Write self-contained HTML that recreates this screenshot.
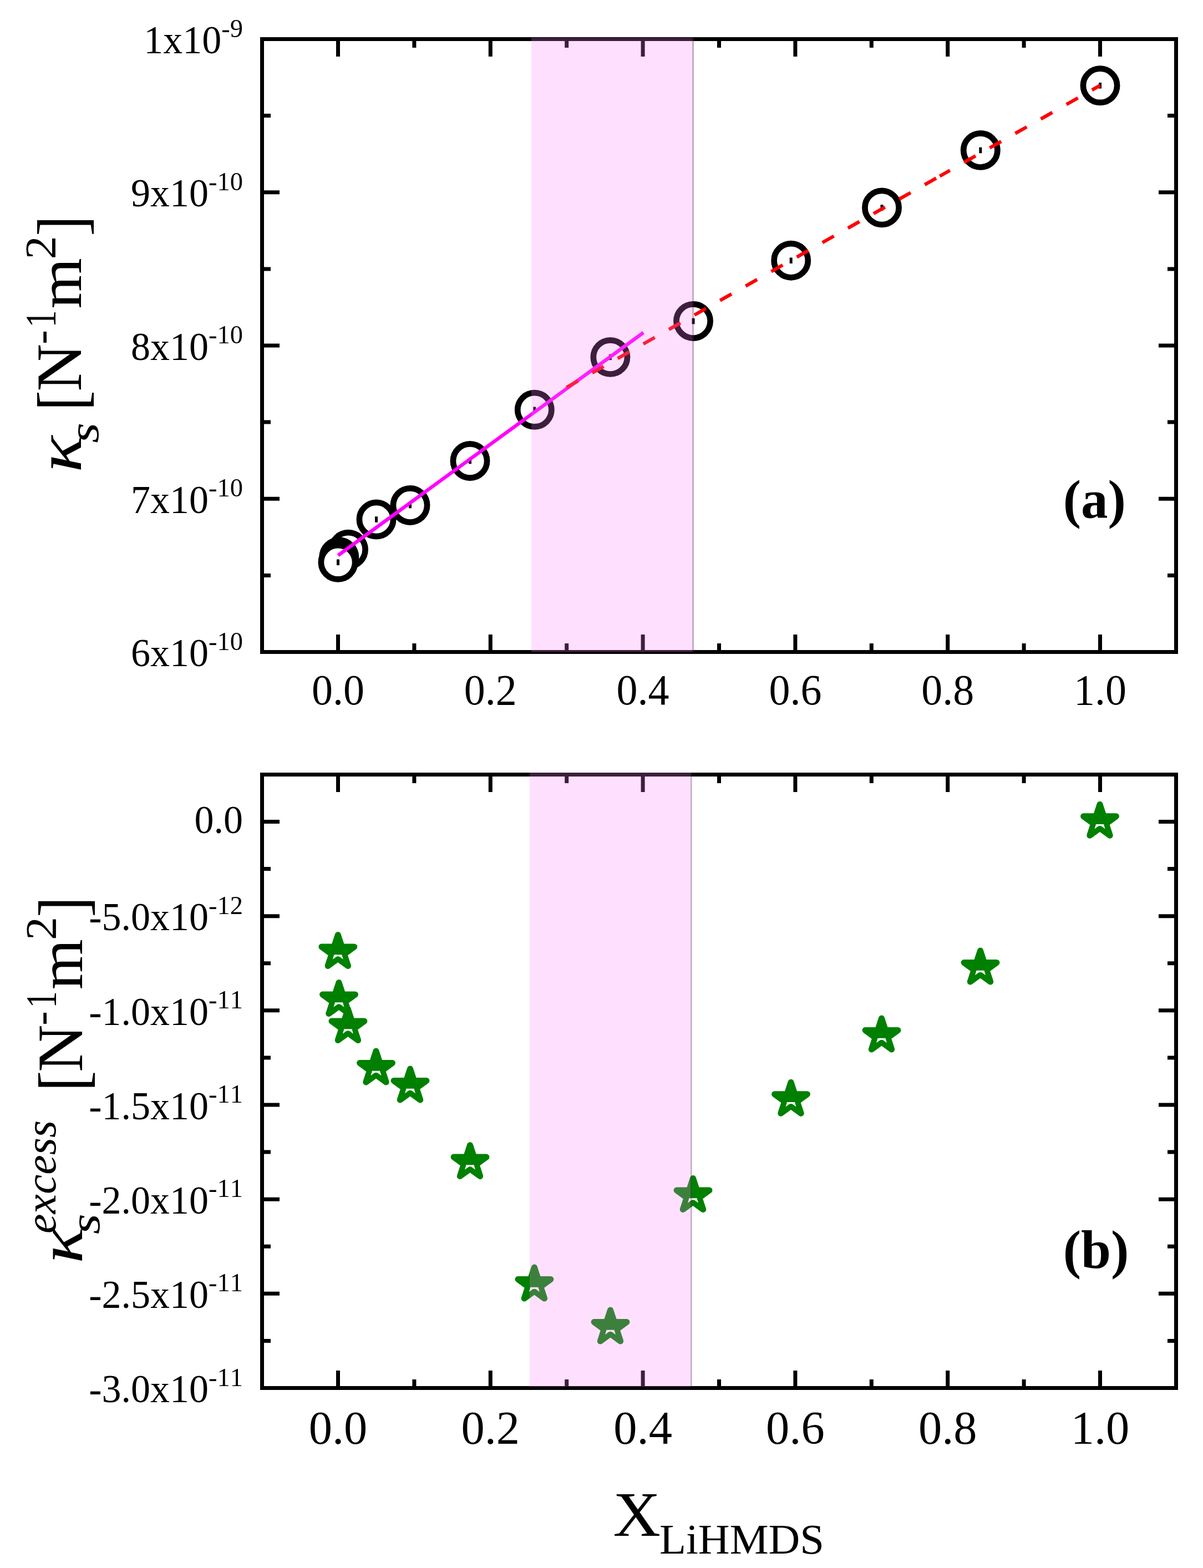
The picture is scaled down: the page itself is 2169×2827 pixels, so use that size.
<!DOCTYPE html>
<html><head><meta charset="utf-8"><title>Figure</title>
<style>html,body{margin:0;padding:0;background:#fff;overflow:hidden;}svg{display:block;}text{font-family:'Liberation Serif','Times New Roman',serif;font-kerning:none;}</style>
</head><body>
<svg width="2169" height="2827" viewBox="0 0 2169 2827">
<rect width="2169" height="2827" fill="#fff"/>
<rect x="472.5" y="70.5" width="1648" height="1105" fill="none" stroke="#000" stroke-width="7"/>
<path d="M609.5 1175.5V1144M609.5 70.5V102M884.3 1175.5V1144M884.3 70.5V102M1159.1 1175.5V1144M1159.1 70.5V102M1433.9 1175.5V1144M1433.9 70.5V102M1708.7 1175.5V1144M1708.7 70.5V102M1983.5 1175.5V1144M1983.5 70.5V102M746.9 1175.5V1160M746.9 70.5V86M1021.7 1175.5V1160M1021.7 70.5V86M1296.5 1175.5V1160M1296.5 70.5V86M1571.3 1175.5V1160M1571.3 70.5V86M1846.1 1175.5V1160M1846.1 70.5V86M472.5 1175.5H504M2120.5 1175.5H2089M472.5 899.25H504M2120.5 899.25H2089M472.5 623H504M2120.5 623H2089M472.5 346.75H504M2120.5 346.75H2089M472.5 70.5H504M2120.5 70.5H2089M472.5 1037.38H488M2120.5 1037.38H2105M472.5 761.12H488M2120.5 761.12H2105M472.5 484.88H488M2120.5 484.88H2105M472.5 208.62H488M2120.5 208.62H2105" stroke="#000" stroke-width="7" fill="none"/>
<circle cx="628" cy="990.8" r="30.6" fill="#fff" stroke="#000" stroke-width="10.7"/>
<rect x="625.5" y="985.5" width="5" height="10.6" fill="#000"/>
<circle cx="611.3" cy="1004.2" r="30.6" fill="#fff" stroke="#000" stroke-width="10.7"/>
<rect x="608.8" y="998.9" width="5" height="10.6" fill="#000"/>
<circle cx="609.5" cy="1013.8" r="30.6" fill="#fff" stroke="#000" stroke-width="10.7"/>
<rect x="607" y="1008.5" width="5" height="10.6" fill="#000"/>
<circle cx="678.5" cy="936.5" r="30.6" fill="#fff" stroke="#000" stroke-width="10.7"/>
<rect x="676" y="931.2" width="5" height="10.6" fill="#000"/>
<circle cx="739.5" cy="911" r="30.6" fill="#fff" stroke="#000" stroke-width="10.7"/>
<rect x="737" y="905.7" width="5" height="10.6" fill="#000"/>
<circle cx="847.5" cy="831" r="30.6" fill="#fff" stroke="#000" stroke-width="10.7"/>
<rect x="845" y="825.7" width="5" height="10.6" fill="#000"/>
<circle cx="963.8" cy="738.8" r="30.6" fill="#fff" stroke="#000" stroke-width="10.7"/>
<rect x="961.3" y="733.5" width="5" height="10.6" fill="#000"/>
<circle cx="1100.4" cy="643.9" r="30.6" fill="#fff" stroke="#000" stroke-width="10.7"/>
<rect x="1097.9" y="638.6" width="5" height="10.6" fill="#000"/>
<circle cx="1250" cy="579" r="30.6" fill="#fff" stroke="#000" stroke-width="10.7"/>
<rect x="1247.5" y="573.7" width="5" height="10.6" fill="#000"/>
<circle cx="1426.2" cy="469.7" r="30.6" fill="#fff" stroke="#000" stroke-width="10.7"/>
<rect x="1423.7" y="464.4" width="5" height="10.6" fill="#000"/>
<circle cx="1590" cy="374.4" r="30.6" fill="#fff" stroke="#000" stroke-width="10.7"/>
<rect x="1587.5" y="369.1" width="5" height="10.6" fill="#000"/>
<circle cx="1767.8" cy="270.9" r="30.6" fill="#fff" stroke="#000" stroke-width="10.7"/>
<rect x="1765.3" y="265.6" width="5" height="10.6" fill="#000"/>
<circle cx="1983.5" cy="154.3" r="30.6" fill="#fff" stroke="#000" stroke-width="10.7"/>
<rect x="1981" y="149" width="5" height="10.6" fill="#000"/>
<line x1="609.5" y1="1001.4" x2="1160.1" y2="599.7" stroke="#f0f" stroke-width="6.4"/>
<path d="M1021.5 698.4L1694.4 317.6" stroke="#f00" stroke-width="6.2" fill="none" stroke-dasharray="23.8 29.2"/>
<path d="M1694.4 317.6L1983.5 154" stroke="#f00" stroke-width="6.2" fill="none" stroke-dasharray="23.8 29.2" stroke-dashoffset="2.6"/>
<rect x="958" y="68" width="290" height="1107.5" fill="rgb(251,127,251)" fill-opacity="0.243"/>
<rect x="1248" y="68" width="3" height="1107.5" fill="rgb(100,40,100)" fill-opacity="0.38"/>
<rect x="472.5" y="1396.5" width="1648" height="1106" fill="none" stroke="#000" stroke-width="7"/>
<path d="M609.5 2502.5V2471M609.5 1396.5V1428M884.3 2502.5V2471M884.3 1396.5V1428M1159.1 2502.5V2471M1159.1 1396.5V1428M1433.9 2502.5V2471M1433.9 1396.5V1428M1708.7 2502.5V2471M1708.7 1396.5V1428M1983.5 2502.5V2471M1983.5 1396.5V1428M746.9 2502.5V2487M746.9 1396.5V1412M1021.7 2502.5V2487M1021.7 1396.5V1412M1296.5 2502.5V2487M1296.5 1396.5V1412M1571.3 2502.5V2487M1571.3 1396.5V1412M1846.1 2502.5V2487M1846.1 1396.5V1412M472.5 1481.5H504M2120.5 1481.5H2089M472.5 1651.67H504M2120.5 1651.67H2089M472.5 1821.83H504M2120.5 1821.83H2089M472.5 1992H504M2120.5 1992H2089M472.5 2162.17H504M2120.5 2162.17H2089M472.5 2332.33H504M2120.5 2332.33H2089M472.5 2502.5H504M2120.5 2502.5H2089M472.5 1566.58H488M2120.5 1566.58H2105M472.5 1736.75H488M2120.5 1736.75H2105M472.5 1906.92H488M2120.5 1906.92H2105M472.5 2077.08H488M2120.5 2077.08H2105M472.5 2247.25H488M2120.5 2247.25H2105M472.5 2417.42H488M2120.5 2417.42H2105" stroke="#000" stroke-width="7" fill="none"/>
<path d="M609.3 1685.6L616.24 1706.95L638.69 1706.95L620.52 1720.15L627.46 1741.5L609.3 1728.3L591.14 1741.5L598.08 1720.15L579.91 1706.95L602.36 1706.95Z" fill="#008000" stroke="#008000" stroke-width="11.1" stroke-linejoin="round"/>
<path d="M602.3 1721.2L616.3 1721.2L618.8 1729.7L613.1 1725.56Q609.3 1722.84 605.5 1725.56L599.8 1729.7Z" fill="#fff"/>
<path d="M611 1771.6L617.94 1792.95L640.39 1792.95L622.22 1806.15L629.16 1827.5L611 1814.3L592.84 1827.5L599.78 1806.15L581.61 1792.95L604.06 1792.95Z" fill="#008000" stroke="#008000" stroke-width="11.1" stroke-linejoin="round"/>
<path d="M604 1807.2L618 1807.2L620.5 1815.7L614.8 1811.56Q611 1808.84 607.2 1811.56L601.5 1815.7Z" fill="#fff"/>
<path d="M627.4 1819.6L634.34 1840.95L656.79 1840.95L638.62 1854.15L645.56 1875.5L627.4 1862.3L609.24 1875.5L616.18 1854.15L598.01 1840.95L620.46 1840.95Z" fill="#008000" stroke="#008000" stroke-width="11.1" stroke-linejoin="round"/>
<path d="M620.4 1855.2L634.4 1855.2L636.9 1863.7L631.2 1859.56Q627.4 1856.84 623.6 1859.56L617.9 1863.7Z" fill="#fff"/>
<path d="M678 1895.1L684.94 1916.45L707.39 1916.45L689.22 1929.65L696.16 1951L678 1937.8L659.84 1951L666.78 1929.65L648.61 1916.45L671.06 1916.45Z" fill="#008000" stroke="#008000" stroke-width="11.1" stroke-linejoin="round"/>
<path d="M671 1930.7L685 1930.7L687.5 1939.2L681.8 1935.06Q678 1932.34 674.2 1935.06L668.5 1939.2Z" fill="#fff"/>
<path d="M739.5 1927.1L746.44 1948.45L768.89 1948.45L750.72 1961.65L757.66 1983L739.5 1969.8L721.34 1983L728.28 1961.65L710.11 1948.45L732.56 1948.45Z" fill="#008000" stroke="#008000" stroke-width="11.1" stroke-linejoin="round"/>
<path d="M732.5 1962.7L746.5 1962.7L749 1971.2L743.3 1967.06Q739.5 1964.34 735.7 1967.06L730 1971.2Z" fill="#fff"/>
<path d="M847.5 2064.7L854.44 2086.05L876.89 2086.05L858.72 2099.25L865.66 2120.6L847.5 2107.4L829.34 2120.6L836.28 2099.25L818.11 2086.05L840.56 2086.05Z" fill="#008000" stroke="#008000" stroke-width="11.1" stroke-linejoin="round"/>
<path d="M840.5 2100.3L854.5 2100.3L857 2108.8L851.3 2104.66Q847.5 2101.94 843.7 2104.66L838 2108.8Z" fill="#fff"/>
<path d="M963.4 2285.1L970.34 2306.45L992.79 2306.45L974.62 2319.65L981.56 2341L963.4 2327.8L945.24 2341L952.18 2319.65L934.01 2306.45L956.46 2306.45Z" fill="#008000" stroke="#008000" stroke-width="11.1" stroke-linejoin="round"/>
<path d="M956.4 2320.7L970.4 2320.7L972.9 2329.2L967.2 2325.06Q963.4 2322.34 959.6 2325.06L953.9 2329.2Z" fill="#fff"/>
<path d="M1100.5 2362.1L1107.44 2383.45L1129.89 2383.45L1111.72 2396.65L1118.66 2418L1100.5 2404.8L1082.34 2418L1089.28 2396.65L1071.11 2383.45L1093.56 2383.45Z" fill="#008000" stroke="#008000" stroke-width="11.1" stroke-linejoin="round"/>
<path d="M1093.5 2397.7L1107.5 2397.7L1110 2406.2L1104.3 2402.06Q1100.5 2399.34 1096.7 2402.06L1091 2406.2Z" fill="#fff"/>
<path d="M1249.5 2124.6L1256.44 2145.95L1278.89 2145.95L1260.72 2159.15L1267.66 2180.5L1249.5 2167.3L1231.34 2180.5L1238.28 2159.15L1220.11 2145.95L1242.56 2145.95Z" fill="#008000" stroke="#008000" stroke-width="11.1" stroke-linejoin="round"/>
<path d="M1242.5 2160.2L1256.5 2160.2L1259 2168.7L1253.3 2164.56Q1249.5 2161.84 1245.7 2164.56L1240 2168.7Z" fill="#fff"/>
<path d="M1426 1951.4L1432.94 1972.75L1455.39 1972.75L1437.22 1985.95L1444.16 2007.3L1426 1994.1L1407.84 2007.3L1414.78 1985.95L1396.61 1972.75L1419.06 1972.75Z" fill="#008000" stroke="#008000" stroke-width="11.1" stroke-linejoin="round"/>
<path d="M1419 1987L1433 1987L1435.5 1995.5L1429.8 1991.36Q1426 1988.64 1422.2 1991.36L1416.5 1995.5Z" fill="#fff"/>
<path d="M1589.5 1836.1L1596.44 1857.45L1618.89 1857.45L1600.72 1870.65L1607.66 1892L1589.5 1878.8L1571.34 1892L1578.28 1870.65L1560.11 1857.45L1582.56 1857.45Z" fill="#008000" stroke="#008000" stroke-width="11.1" stroke-linejoin="round"/>
<path d="M1582.5 1871.7L1596.5 1871.7L1599 1880.2L1593.3 1876.06Q1589.5 1873.34 1585.7 1876.06L1580 1880.2Z" fill="#fff"/>
<path d="M1767.5 1714.1L1774.44 1735.45L1796.89 1735.45L1778.72 1748.65L1785.66 1770L1767.5 1756.8L1749.34 1770L1756.28 1748.65L1738.11 1735.45L1760.56 1735.45Z" fill="#008000" stroke="#008000" stroke-width="11.1" stroke-linejoin="round"/>
<path d="M1760.5 1749.7L1774.5 1749.7L1777 1758.2L1771.3 1754.06Q1767.5 1751.34 1763.7 1754.06L1758 1758.2Z" fill="#fff"/>
<path d="M1983 1450.4L1989.94 1471.75L2012.39 1471.75L1994.22 1484.95L2001.16 1506.3L1983 1493.1L1964.84 1506.3L1971.78 1484.95L1953.61 1471.75L1976.06 1471.75Z" fill="#008000" stroke="#008000" stroke-width="11.1" stroke-linejoin="round"/>
<path d="M1976 1486L1990 1486L1992.5 1494.5L1986.8 1490.36Q1983 1487.64 1979.2 1490.36L1973.5 1494.5Z" fill="#fff"/>
<rect x="955" y="1393" width="290" height="1107" fill="rgb(251,127,251)" fill-opacity="0.243"/>
<rect x="1245" y="1393" width="2.6" height="1107" fill="rgb(100,40,100)" fill-opacity="0.38"/>
<text transform="translate(438,96.1) scale(1,1.02)" font-size="70" text-anchor="end">1x10<tspan font-size="46.5" dy="-29">-9</tspan></text>
<text transform="translate(438,372.35) scale(1,1.02)" font-size="70" text-anchor="end">9x10<tspan font-size="46.5" dy="-29">-10</tspan></text>
<text transform="translate(438,648.6) scale(1,1.02)" font-size="70" text-anchor="end">8x10<tspan font-size="46.5" dy="-29">-10</tspan></text>
<text transform="translate(438,924.85) scale(1,1.02)" font-size="70" text-anchor="end">7x10<tspan font-size="46.5" dy="-29">-10</tspan></text>
<text transform="translate(438,1201.1) scale(1,1.02)" font-size="70" text-anchor="end">6x10<tspan font-size="46.5" dy="-29">-10</tspan></text>
<text transform="translate(438,1502) scale(1,1.02)" font-size="70" text-anchor="end">0.0</text>
<text transform="translate(438,1677.37) scale(1,1.02)" font-size="70" text-anchor="end">-5.0x10<tspan font-size="46.5" dy="-29">-12</tspan></text>
<text transform="translate(438,1847.53) scale(1,1.02)" font-size="70" text-anchor="end">-1.0x10<tspan font-size="46.5" dy="-29">-11</tspan></text>
<text transform="translate(438,2017.7) scale(1,1.02)" font-size="70" text-anchor="end">-1.5x10<tspan font-size="46.5" dy="-29">-11</tspan></text>
<text transform="translate(438,2187.87) scale(1,1.02)" font-size="70" text-anchor="end">-2.0x10<tspan font-size="46.5" dy="-29">-11</tspan></text>
<text transform="translate(438,2358.03) scale(1,1.02)" font-size="70" text-anchor="end">-2.5x10<tspan font-size="46.5" dy="-29">-11</tspan></text>
<text transform="translate(438,2528.2) scale(1,1.02)" font-size="70" text-anchor="end">-3.0x10<tspan font-size="46.5" dy="-29">-11</tspan></text>
<text transform="translate(609.5,1270.4) scale(1,1.04)" font-size="76" text-anchor="middle">0.0</text>
<text transform="translate(884.3,1270.4) scale(1,1.04)" font-size="76" text-anchor="middle">0.2</text>
<text transform="translate(1159.1,1270.4) scale(1,1.04)" font-size="76" text-anchor="middle">0.4</text>
<text transform="translate(1433.9,1270.4) scale(1,1.04)" font-size="76" text-anchor="middle">0.6</text>
<text transform="translate(1708.7,1270.4) scale(1,1.04)" font-size="76" text-anchor="middle">0.8</text>
<text transform="translate(1983.5,1270.4) scale(1,1.04)" font-size="76" text-anchor="middle">1.0</text>
<text transform="translate(609.5,2603) scale(1,1.014)" font-size="84.5" text-anchor="middle">0.0</text>
<text transform="translate(884.3,2603) scale(1,1.014)" font-size="84.5" text-anchor="middle">0.2</text>
<text transform="translate(1159.1,2603) scale(1,1.014)" font-size="84.5" text-anchor="middle">0.4</text>
<text transform="translate(1433.9,2603) scale(1,1.014)" font-size="84.5" text-anchor="middle">0.6</text>
<text transform="translate(1708.7,2603) scale(1,1.014)" font-size="84.5" text-anchor="middle">0.8</text>
<text transform="translate(1983.5,2603) scale(1,1.014)" font-size="84.5" text-anchor="middle">1.0</text>
<text x="1916.7" y="933" font-size="97" font-weight="bold">(a)</text>
<text x="1916.8" y="2286" font-size="97" font-weight="bold">(b)</text>
<text transform="translate(1105.4,2768.75) scale(1.0294,0.9861)" font-size="115">X</text>
<text transform="translate(1188.98,2801.01) scale(1.0214,0.9858)" font-size="77">LiHMDS</text>
<text transform="translate(146.1,851.76) rotate(-90) scale(1.2026,1.0060)" font-size="115" font-style="italic">κ</text>
<text transform="translate(177.15,798.85) rotate(-90) scale(1.2287,0.9964)" font-size="77" font-style="italic">s</text>
<text transform="translate(152.67,740.8) rotate(-90) scale(0.9607,1.0612)" font-size="115">[</text>
<text transform="translate(146,705.73) rotate(-90) scale(1.0351,1.0053)" font-size="115">N</text>
<text transform="translate(98.64,620.86) rotate(-90)" font-size="77">-</text>
<text transform="translate(98.8,590.39) rotate(-90) scale(0.8116,1.0230)" font-size="77">1</text>
<text transform="translate(145.7,556.46) rotate(-90) scale(1.0207,0.9744)" font-size="115">m</text>
<text transform="translate(98.8,467.41) rotate(-90) scale(1.0950,1.0200)" font-size="77">2</text>
<text transform="translate(152.74,425.82) rotate(-90) scale(0.9685,1.0633)" font-size="115">]</text>
<text transform="translate(147.9,2277.92) rotate(-90) scale(1.1911,1.0022)" font-size="115" font-style="italic">κ</text>
<text transform="translate(179.25,2225.16) rotate(-90) scale(1.2362,1.0018)" font-size="77" font-style="italic">s</text>
<text transform="translate(100.44,2223.96) rotate(-90) scale(1.0373,1.0126)" font-size="77" font-style="italic">excess</text>
<text transform="translate(154.76,1967.7) rotate(-90) scale(0.9724,1.0622)" font-size="115">[</text>
<text transform="translate(148.4,1933.02) rotate(-90) scale(1.0325,1.0146)" font-size="115">N</text>
<text transform="translate(99.24,1848.76) rotate(-90)" font-size="77">-</text>
<text transform="translate(100,1817.44) rotate(-90) scale(0.7894,1.0249)" font-size="77">1</text>
<text transform="translate(148,1784.16) rotate(-90) scale(1.0171,0.9929)" font-size="115">m</text>
<text transform="translate(100,1694.99) rotate(-90) scale(1.0918,1.0219)" font-size="77">2</text>
<text transform="translate(154.76,1653.86) rotate(-90) scale(0.9764,1.0622)" font-size="115">]</text>
</svg></body></html>
